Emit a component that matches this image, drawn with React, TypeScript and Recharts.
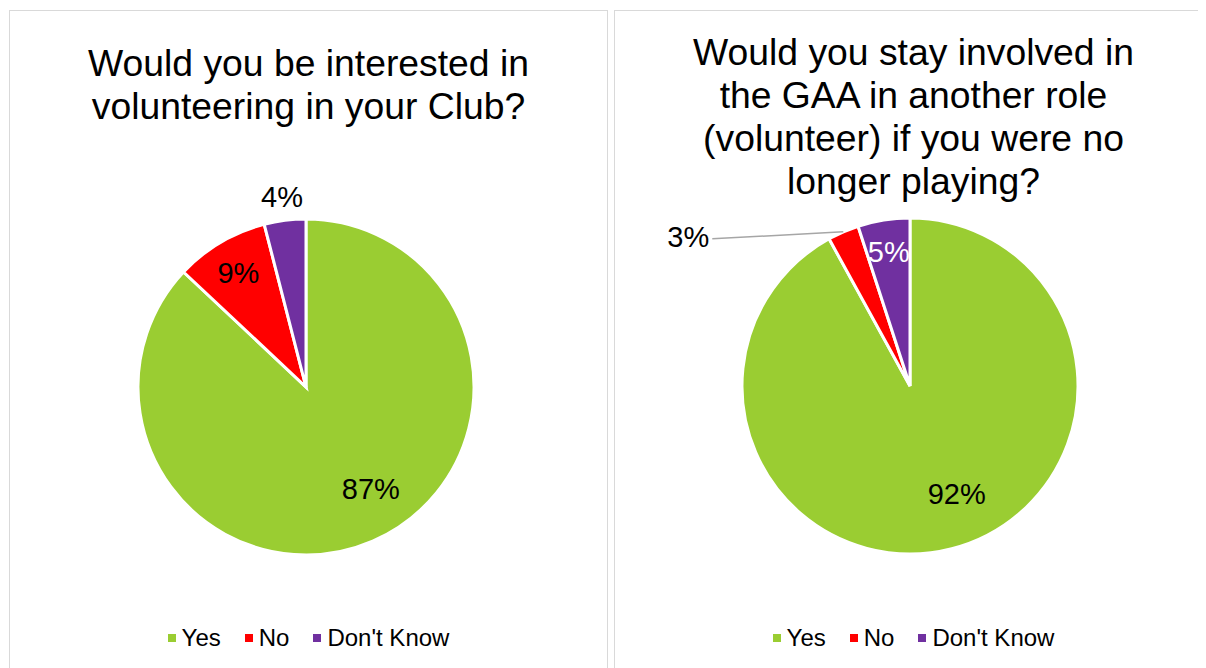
import { PieChart, Pie, Cell, Legend } from 'recharts';

const categories = ['Yes', 'No', "Don't Know"];
const colors = ['#9acd32', '#ff0000', '#7030a0'];

const clubValues = [87, 9, 4];
const gaaValues = [92, 3, 5];

const clubTitle = ['Would you be interested in', 'volunteering in your Club?'];
const gaaTitle = [
  'Would you stay involved in',
  'the GAA in another role',
  '(volunteer) if you were no',
  'longer playing?',
];

// label placement per slice: r = fraction of radius along mid angle, color, optional leader offset
const clubLabels = [
  { r: 0.72, shift: 9, color: '#000' },
  { r: 0.79, shift: 0, color: '#000' },
  { r: 1.14, shift: 0, color: '#000' },
];
const gaaLabels = [
  { r: 0.7, shift: 9, color: '#000' },
  { r: 1.0, shift: 0, color: '#000', leader: [-131, 7, -155, 5] },
  { r: 0.81, shift: 0, color: '#fff' },
];

const RAD = Math.PI / 180;
const FONT = 'Liberation Sans, Arial, sans-serif';

const makeLabel = (cfg: any[]) => (props: any) => {
  const { cx, cy, midAngle, outerRadius, percent, index } = props;
  const c = cfg[index];
  const a = (midAngle + c.shift) * RAD;
  const x = cx + outerRadius * c.r * Math.cos(a);
  const y = cy - outerRadius * c.r * Math.sin(a);
  const txt = Math.round(percent * 100) + '%';
  if (c.leader) {
    const [lx, ly, tx, ty] = c.leader;
    return (
      <g>
        <line x1={x} y1={y} x2={x + lx} y2={y + ly} stroke='#a6a6a6' strokeWidth={1.5} />
        <text x={x + tx} y={y + ty} fill={c.color} fontSize={29} textAnchor='middle' dominantBaseline='central' fontFamily={FONT}>
          {txt}
        </text>
      </g>
    );
  }
  return (
    <text x={x} y={y} fill={c.color} fontSize={29} textAnchor='middle' dominantBaseline='central' fontFamily={FONT}>
      {txt}
    </text>
  );
};

const LegendBox = () => (
  <div style={{ display: 'flex', justifyContent: 'center', fontSize: 24, fontFamily: FONT, color: '#000' }}>
    {categories.map((c, i) => (
      <div key={c} style={{ display: 'flex', alignItems: 'center', margin: '0 12px' }}>
        <span style={{ width: 8, height: 8, background: colors[i], marginRight: 6, display: 'inline-block' }} />
        {c}
      </div>
    ))}
  </div>
);

const Panel = ({ left, title, titleTop, values, labels, cx, cy }: any) => {
  const data = categories.map((name, i) => ({ name, value: values[i] }));
  return (
    <div
      style={{
        position: 'absolute',
        left,
        top: 2,
        width: 597,
        height: 670,
        border: '1px solid #d9d9d9',
        background: '#fff',
      }}
    >
      <div
        style={{
          position: 'absolute',
          top: titleTop,
          left: 0,
          width: 597,
          textAlign: 'center',
          fontSize: 37.3,
          lineHeight: '43px',
          fontFamily: FONT,
          color: '#000',
        }}
      >
        {title.map((t: string) => (
          <div key={t}>{t}</div>
        ))}
      </div>
      <div style={{ position: 'absolute', left: 0, top: 0 }}>
        <PieChart width={597} height={656} margin={{ top: 0, right: 0, bottom: 0, left: 0 }}>
          <Pie
            data={data}
            dataKey='value'
            nameKey='name'
            cx={cx}
            cy={cy}
            outerRadius={168}
            startAngle={90}
            endAngle={-270}
            stroke='#fff'
            strokeWidth={3}
            label={makeLabel(labels)}
            labelLine={false}
            isAnimationActive={false}
          >
            {data.map((d, i) => (
              <Cell key={d.name} fill={colors[i]} />
            ))}
          </Pie>
          <Legend verticalAlign='bottom' content={() => <LegendBox />} wrapperStyle={{ bottom: 15 }} />
        </PieChart>
      </div>
    </div>
  );
};

export default function App() {
  return (
    <div style={{ position: 'relative', width: 1206, height: 668 }}>
      <Panel left={1} title={clubTitle} titleTop={31} values={clubValues} labels={clubLabels} cx={296} cy={376} />
      <Panel left={606} title={gaaTitle} titleTop={20} values={gaaValues} labels={gaaLabels} cx={295} cy={375} />
    </div>
  );
}
